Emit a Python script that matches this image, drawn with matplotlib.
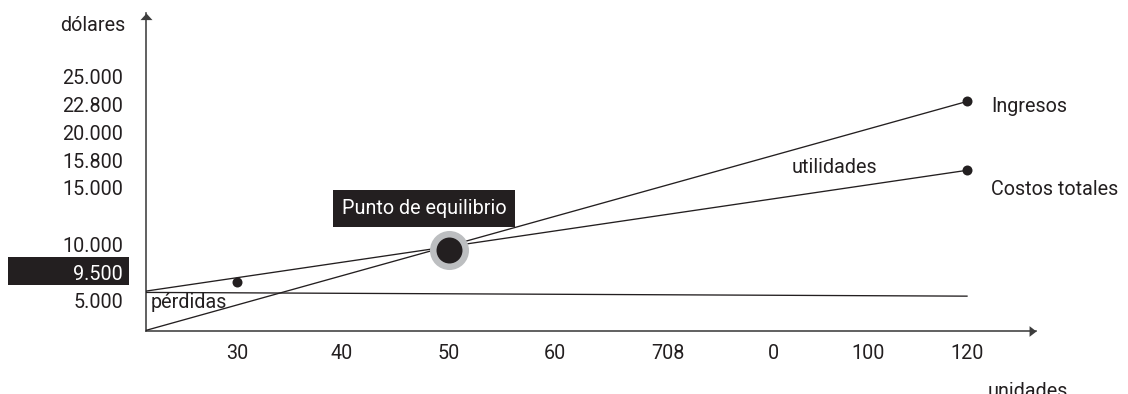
import numpy as np
import matplotlib
matplotlib.use("Agg")
import matplotlib.pyplot as plt
from matplotlib.patches import Rectangle
from matplotlib.path import Path
from matplotlib.transforms import IdentityTransform

# ---- data -----------------------------------------------------------------
unit_ticks = [30, 40, 50, 60, 70, 80, 100, 120]
unit_labels = ["30", "40", "50", "60", "708", "0", "100", "120"]

dollar_ticks = [5000, 9500, 10000, 15000, 15800, 20000, 22800, 25000]
dollar_labels = ["5.000", "9.500", "10.000", "15.000", "15.800",
                 "20.000", "22.800", "25.000"]

units_span = [0, 120]
revenue = [0, 23000]          # Ingresos
total_costs = [6500, 15500]   # Costos totales
fixed_costs = [6300, 5700]

cost_dot_units = [30, 120]
cost_dot_values = [8000, 15500]
revenue_dot = (120, 23000)
break_even = (50, 9900)
highlight_value = 9500

# ---- layout: pixel distance of each tick from the origin ------------------
x_knot_values = [0] + unit_ticks + [135]
x_knot_pixels = [0, 91.5, 196.5, 303.5, 409.5, 522.5, 627.5, 722.5, 821.5, 890.5]
y_knot_values = [0] + dollar_ticks + [30000]
y_knot_pixels = [0, 30, 58, 86, 143, 170.5, 198, 226.5, 254.5, 317.5]

INK = "#231f20"
AXIS = "#3d3d3d"
RING = "#bcbec0"
FONT = "Roboto"
FS = 14.2

plt.rcParams["font.family"] = [FONT, "DejaVu Sans"]


def piecewise(values, pixels):
    v = np.asarray(values, float)
    p = np.asarray(pixels, float)
    return (lambda a: np.interp(a, v, p)), (lambda a: np.interp(a, p, v))


W, H = 1128, 394
fig = plt.figure(figsize=(W / 100, H / 100), dpi=100)
ox, oy = 145.5, 330.5
ax = fig.add_axes([ox / W, (H - oy) / H, 890.5 / W, 317.5 / H])
ax.set_facecolor("none")

ax.set_xscale("function", functions=piecewise(x_knot_values, x_knot_pixels))
ax.set_yscale("function", functions=piecewise(y_knot_values, y_knot_pixels))
ax.set_xlim(x_knot_values[0], x_knot_values[-1])
ax.set_ylim(y_knot_values[0], y_knot_values[-1])

for side in ("top", "right"):
    ax.spines[side].set_visible(False)
for side in ("left", "bottom"):
    ax.spines[side].set_color(AXIS)
    ax.spines[side].set_linewidth(1.15)

ax.set_xticks(unit_ticks, unit_labels)
ax.set_yticks(dollar_ticks, dollar_labels)
ax.minorticks_off()
ax.tick_params(axis="x", length=0, pad=9.7, labelsize=FS, labelcolor=INK)
ax.tick_params(axis="y", length=0, pad=16.2, labelsize=FS, labelcolor=INK)

# axis arrow heads
up_head = Path([(-1, -1.1), (1, -1.1), (0, 0), (-1, -1.1)],
               [Path.MOVETO, Path.LINETO, Path.LINETO, Path.CLOSEPOLY])
right_head = Path([(-1.3, -1), (0, 0), (-1.3, 1), (-1.3, -1)],
                  [Path.MOVETO, Path.LINETO, Path.LINETO, Path.CLOSEPOLY])
ax.plot([0], [1], marker=up_head, ms=9.5, color=AXIS, mew=0,
        transform=ax.transAxes, clip_on=False)
ax.plot([1], [0], marker=right_head, ms=10, color=AXIS, mew=0,
        transform=ax.transAxes, clip_on=False)

# lines
lw = 0.95
ax.plot(units_span, fixed_costs, color=INK, lw=lw, zorder=3)
ax.plot(units_span, total_costs, color=INK, lw=lw, zorder=3)
ax.plot(units_span, revenue, color=INK, lw=lw, zorder=3)

# dots
ax.plot(cost_dot_units, cost_dot_values, "o", ms=7.2, color=INK, mew=0, zorder=4)
ax.plot(*revenue_dot, "o", ms=7.2, color=INK, mew=0, zorder=4)

# break-even marker
ax.plot(*break_even, "o", ms=28.1, color=RING, mew=0, zorder=5)
ax.plot(*break_even, "o", ms=18.7, color=INK, mew=0, zorder=6)

txt = dict(fontsize=FS, color=INK)
ax.annotate("Punto de equilibrio", xy=break_even, xytext=(-25, 43.5),
            textcoords="offset pixels", ha="center", va="center_baseline",
            fontsize=FS, color="white", zorder=7,
            bbox=dict(boxstyle="square,pad=0.45", fc=INK, ec="none"))

ax.annotate("Ingresos", xy=(units_span[1], 22800), xytext=(24, 0),
            textcoords="offset pixels", ha="left", va="center_baseline",
            annotation_clip=False, **txt)
ax.annotate("Costos totales", xy=(units_span[1], 15000), xytext=(24, 0),
            textcoords="offset pixels", ha="left", va="center_baseline",
            annotation_clip=False, **txt)
ax.text(93, 15650, "utilidades", ha="center", va="center_baseline", **txt)
ax.annotate("pérdidas", xy=(0, 5000), xytext=(5, 0), textcoords="offset pixels",
            ha="left", va="center_baseline", **txt)

ax.annotate("dólares", xy=(0, 1), xycoords="axes fraction", xytext=(-20.5, -18),
            textcoords="offset pixels", ha="right", va="baseline",
            annotation_clip=False, **txt)
ax.annotate("unidades", xy=(1, 0), xycoords="axes fraction", xytext=(-48, -66.5),
            textcoords="offset pixels", ha="left", va="baseline",
            annotation_clip=False, **txt)

# highlighted value on the dollar axis
hi = dollar_ticks.index(highlight_value)
ax.get_yticklabels()[hi].set_color("white")
y_disp = ax.transData.transform((1, highlight_value))[1] + 1.5
fig.add_artist(Rectangle((8, y_disp - 14), 121, 28, transform=IdentityTransform(),
                         fc=INK, ec="none", zorder=-1))

fig.savefig("out.png", dpi=100)
